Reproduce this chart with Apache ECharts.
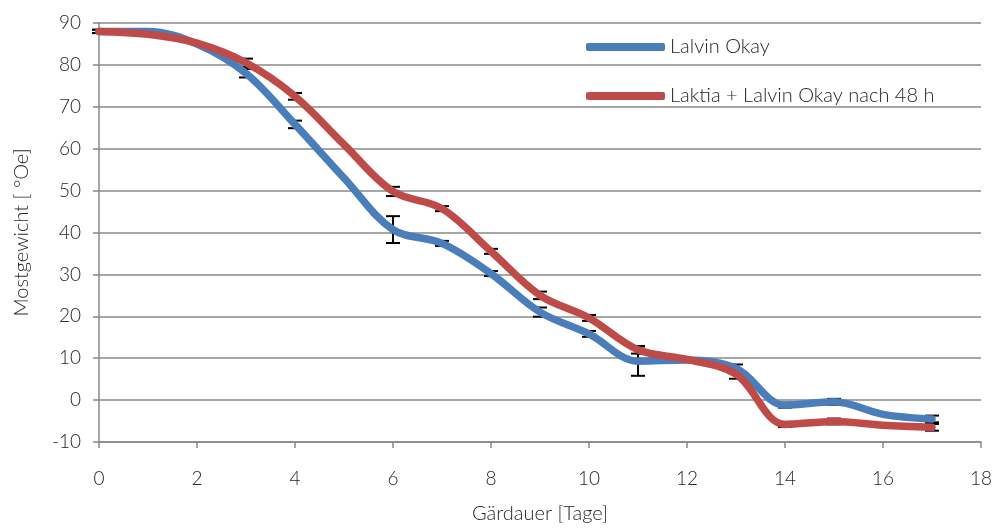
<!DOCTYPE html>
<html>
<head>
<meta charset="utf-8">
<script src="https://cdn.jsdelivr.net/npm/echarts@6/dist/echarts.min.js"></script>
<style>html,body{margin:0;padding:0;background:#fff}#c{width:1001px;height:529px}</style>
</head>
<body>
<div id="c"></div>
<script>
// Data
var days    = [0, 1, 2, 3, 4, 5, 6, 7, 8, 9, 10, 11, 12, 13, 14, 15, 16, 17];
var blue    = [88, 88, 85, 78, 65.8, 53, 40.7, 37.4, 30.2, 21, 15.8, 9.3, 9.6, 7.6, -1.2, -0.4, -3.4, -4.5];
var red     = [88, 87.3, 85.2, 80.5, 72.5, 61, 49.8, 45.7, 35.5, 25, 19.6, 12, 9.7, 6.2, -5.8, -5.1, -6, -6.5];
// error bar half-widths, aligned with errDays
var errDays = [0, 3, 4, 6, 7, 8, 9, 10, 11, 13, 14, 15, 17];
var blueErr = [0.4, 1, 0.9, 3.2, 0.6, 0.6, 1.1, 0.7, 3.5, 0.9, 0.6, 0.7, 0.8];
var redErr  = [0.4, 1, 0.8, 1.1, 0.6, 0.6, 0.9, 0.7, 0.9, 1.1, 0.6, 0.7, 0.8];
var seriesNames = ['Lalvin Okay', 'Laktia + Lalvin Okay nach 48 h'];
var xTicks = {min: 0, max: 18, interval: 2};
var yTicks = {min: -10, max: 90, interval: 10};

function pairs(xs, ys) { return xs.map(function (x, i) { return [x, ys[i]]; }); }
function errData(vals, errs) {
  return errDays.map(function (d, i) {
    var v = vals[days.indexOf(d)];
    return [d, v - errs[i], v + errs[i]];
  });
}
function renderErr(params, api) {
  var lo = api.coord([api.value(0), api.value(1)]);
  var hi = api.coord([api.value(0), api.value(2)]);
  var hw = 7;
  var st = {stroke: '#000', lineWidth: 2};
  return {type: 'group', children: [
    {type: 'line', shape: {x1: lo[0], y1: lo[1], x2: hi[0], y2: hi[1]}, style: st},
    {type: 'line', shape: {x1: lo[0] - hw, y1: lo[1], x2: lo[0] + hw, y2: lo[1]}, style: st},
    {type: 'line', shape: {x1: hi[0] - hw, y1: hi[1], x2: hi[0] + hw, y2: hi[1]}, style: st}
  ]};
}

var FONT = 'Lato';
var TXT = '#262626';
var FS = 19;
var chart = echarts.init(document.getElementById('c'), null, {renderer: 'canvas'});
chart.setOption({
  animation: false,
  backgroundColor: '#fff',
  grid: {left: 99, right: 20, top: 23, bottom: 83, containLabel: false},
  legend: {
    orient: 'vertical', left: 581, top: 32,
    itemWidth: 79, itemHeight: 8, itemGap: 29,
    textStyle: {fontFamily: FONT, fontWeight: 300, fontSize: 20, color: TXT, lineHeight: 20},
    data: [{name: seriesNames[0], icon: 'roundRect'}, {name: seriesNames[1], icon: 'roundRect'}]
  },
  xAxis: {
    type: 'value', min: xTicks.min, max: xTicks.max, interval: xTicks.interval,
    name: 'Gärdauer [Tage]', nameLocation: 'middle', nameGap: 62,
    nameTextStyle: {fontFamily: FONT, fontWeight: 300, fontSize: 20, color: TXT},
    axisLine: {onZero: false, lineStyle: {color: '#888', width: 1.5}},
    axisTick: {show: true, length: 6, lineStyle: {color: '#888', width: 1.5}},
    axisLabel: {margin: 27, fontFamily: FONT, fontWeight: 300, fontSize: FS, color: TXT},
    splitLine: {show: false}
  },
  yAxis: {
    type: 'value', min: yTicks.min, max: yTicks.max, interval: yTicks.interval,
    name: 'Mostgewicht [ °Oe]', nameLocation: 'middle', nameGap: 67,
    nameTextStyle: {fontFamily: FONT, fontWeight: 300, fontSize: 20, color: TXT},
    axisLine: {show: true, onZero: false, lineStyle: {color: '#888', width: 1.5}},
    axisTick: {show: true, length: 6, lineStyle: {color: '#888', width: 1.5}},
    axisLabel: {margin: 18, fontFamily: FONT, fontWeight: 300, fontSize: FS, color: TXT},
    splitLine: {show: true, lineStyle: {color: '#888', width: 1.5}}
  },
  series: [
    {type: 'custom', name: 'errBlue', renderItem: renderErr, data: errData(blue, blueErr), z: 1, clip: false, silent: true},
    {type: 'custom', name: 'errRed', renderItem: renderErr, data: errData(red, redErr), z: 1, clip: false, silent: true},
    {type: 'line', name: seriesNames[0], data: pairs(days, blue), smooth: 0.35, symbol: 'none',
     lineStyle: {color: '#4a7ebb', width: 7.5, cap: 'round'}, itemStyle: {color: '#4a7ebb'}, z: 3},
    {type: 'line', name: seriesNames[1], data: pairs(days, red), smooth: 0.35, symbol: 'none',
     lineStyle: {color: '#be4b48', width: 7.5, cap: 'round'}, itemStyle: {color: '#be4b48'}, z: 4}
  ]
});
</script>
</body>
</html>
